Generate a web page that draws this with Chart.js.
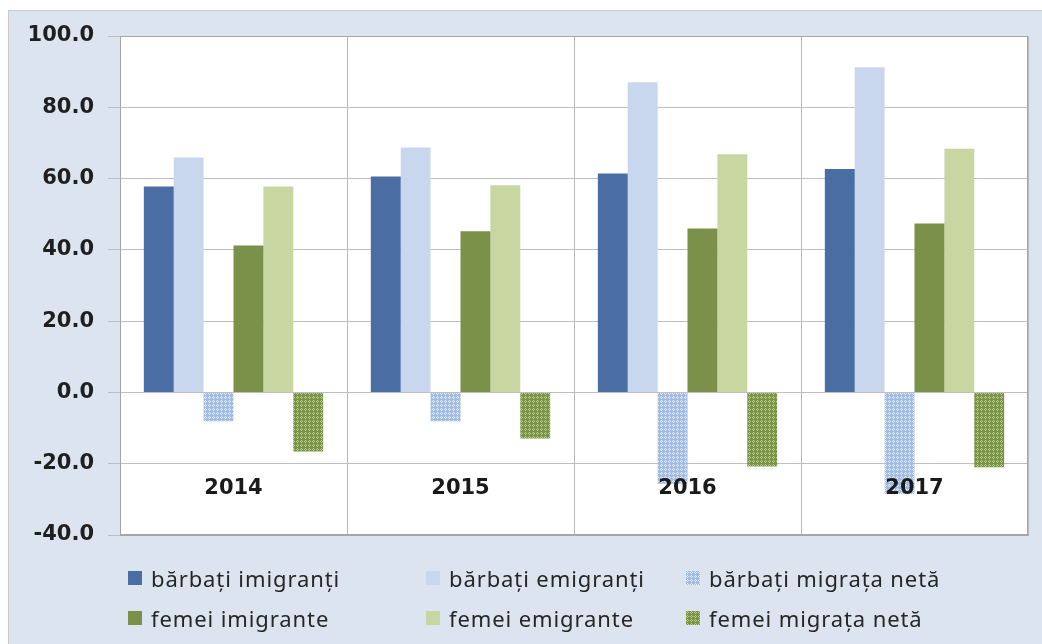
<!DOCTYPE html>
<html>
<head>
<meta charset="utf-8">
<script src="https://cdn.jsdelivr.net/npm/chart.js@4/dist/chart.umd.min.js"></script>
<style>
  body { margin: 0; background: #fff; width: 1042px; height: 644px; overflow: hidden; }
  #frame { position: absolute; left: 8px; top: 10px; width: 1040px; height: 640px;
           background: #dce4ef; border: 1px solid #c9c9c9; box-sizing: border-box; }
  #wrap { position: absolute; left: 0; top: 0; width: 1042px; height: 644px; }
  #legend { position: absolute; left: 0; top: 0; font-family: "Noto Sans", sans-serif;
            font-size: 22px; letter-spacing: 0.9px; color: #262626; }
  .item { position: absolute; display: flex; align-items: center; white-space: nowrap; }
  .box { width: 14px; height: 14px; margin-right: 9px; }
</style>
</head>
<body>
<div id="frame"></div>
<div id="wrap"><canvas id="chart"></canvas></div>
<div id="legend"></div>
<script>
// date
const years = ['2014', '2015', '2016', '2017'];
const barbatiImigranti = [57.8, 60.6, 61.4, 62.7];
const barbatiEmigranti = [65.9, 68.7, 87.0, 91.2];
const barbatiMigrataNeta = [-8.1, -8.1, -25.6, -28.5];
const femeiImigrante = [41.2, 45.2, 46.0, 47.4];
const femeiEmigrante = [57.8, 58.1, 66.8, 68.4];
const femeiMigrataNeta = [-16.6, -12.9, -20.8, -21.0];
const yTicks = [100, 80, 60, 40, 20, 0, -20, -40];

// hasura mica pentru migratia neta
function makeHatch(base, dot) {
    const c = document.createElement('canvas');
    c.width = 4; c.height = 4;
    const g = c.getContext('2d');
    g.fillStyle = base;
    g.fillRect(0, 0, 4, 4);
    g.fillStyle = dot;
    g.fillRect(1, 0, 1, 1);
    g.fillRect(0, 1, 1, 1);
    g.fillRect(2, 1, 1, 1);
    g.fillRect(1, 2, 1, 1);
    return c;
}

const ctx = document.getElementById('chart').getContext('2d');
const blueHatch = makeHatch('#9fbbe6', '#e4ecf8');
const greenHatch = makeHatch('#7a9445', '#b9cb92');

const series = [
    { label: 'bărbați imigranți', data: barbatiImigranti, color: '#4a6ea3' },
    { label: 'bărbați emigranți', data: barbatiEmigranti, color: '#c8d7ee' },
    { label: 'bărbați migrața netă', data: barbatiMigrataNeta, color: ctx.createPattern(blueHatch, 'repeat'), swatch: blueHatch },
    { label: 'femei imigrante', data: femeiImigrante, color: '#7b9049' },
    { label: 'femei emigrante', data: femeiEmigrante, color: '#c8d6a2' },
    { label: 'femei migrața netă', data: femeiMigrataNeta, color: ctx.createPattern(greenHatch, 'repeat'), swatch: greenHatch }
];

// fundal alb si chenar pentru zona graficului, etichete ani
const plotArea = {
    id: 'plotArea',
    beforeDraw(chart) {
        const a = chart.chartArea;
        chart.ctx.save();
        chart.ctx.fillStyle = '#ffffff';
        chart.ctx.fillRect(a.left, a.top, a.right - a.left, a.bottom - a.top);
        chart.ctx.restore();
    },
    afterDatasetsDraw(chart) {
        const c = chart.ctx;
        const x = chart.scales.x;
        const y = chart.scales.y;
        c.save();
        c.font = 'bold 21px "DejaVu Sans"';
        c.fillStyle = '#1a1a1a';
        c.textAlign = 'center';
        c.textBaseline = 'middle';
        years.forEach((yr, i) => {
            c.fillText(yr, x.getPixelForValue(i), y.getPixelForValue(-20) + 25);
        });
        c.restore();
    },
    afterDraw(chart) {
        const a = chart.chartArea;
        chart.ctx.save();
        chart.ctx.strokeStyle = '#a6a6a6';
        chart.ctx.lineWidth = 1;
        chart.ctx.strokeRect(a.left + 0.5, a.top + 0.5, a.right - a.left - 1, a.bottom - a.top - 1);
        chart.ctx.restore();
    }
};

new Chart(ctx, {
    type: 'bar',
    data: {
        labels: years,
        datasets: series.map(s => ({
            label: s.label,
            data: s.data,
            backgroundColor: s.color,
            borderWidth: 0,
            barPercentage: 1.0,
            categoryPercentage: 0.79
        }))
    },
    options: {
        responsive: true,
        maintainAspectRatio: false,
        animation: false,
        layout: { padding: { left: 20, top: 36, right: 14, bottom: 109 } },
        plugins: {
            legend: { display: false },
            tooltip: { enabled: false }
        },
        scales: {
            x: {
                grid: { offset: true, color: '#b8b8b8', drawTicks: false },
                border: { color: '#a6a6a6' },
                ticks: { display: false },
                afterFit: s => { s.height = 0; }
            },
            y: {
                min: -40,
                max: 100,
                afterBuildTicks: s => { s.ticks = yTicks.map(v => ({ value: v })); },
                grid: { color: '#bfbfbf', tickLength: 12 },
                border: { color: '#a6a6a6' },
                ticks: {
                    padding: 14,
                    color: '#1f1f1f',
                    font: { family: 'DejaVu Sans', weight: 'bold', size: 21 },
                    callback: v => v.toFixed(1)
                },
                afterFit: s => { s.width = 100; }
            }
        }
    },
    plugins: [plotArea]
});

// legenda pe trei coloane
const legendPos = [[128, 579], [426, 579], [686, 579], [128, 619], [426, 619], [686, 619]];
const legend = document.getElementById('legend');
series.forEach((s, i) => {
    const item = document.createElement('div');
    item.className = 'item';
    item.style.left = legendPos[i][0] + 'px';
    item.style.top = (legendPos[i][1] - 16) + 'px';
    const box = document.createElement('span');
    box.className = 'box';
    if (s.swatch) {
        box.style.backgroundImage = 'url(' + s.swatch.toDataURL() + ')';
    } else {
        box.style.background = s.color;
    }
    const txt = document.createElement('span');
    txt.textContent = s.label;
    item.appendChild(box);
    item.appendChild(txt);
    legend.appendChild(item);
});
</script>
</body>
</html>
